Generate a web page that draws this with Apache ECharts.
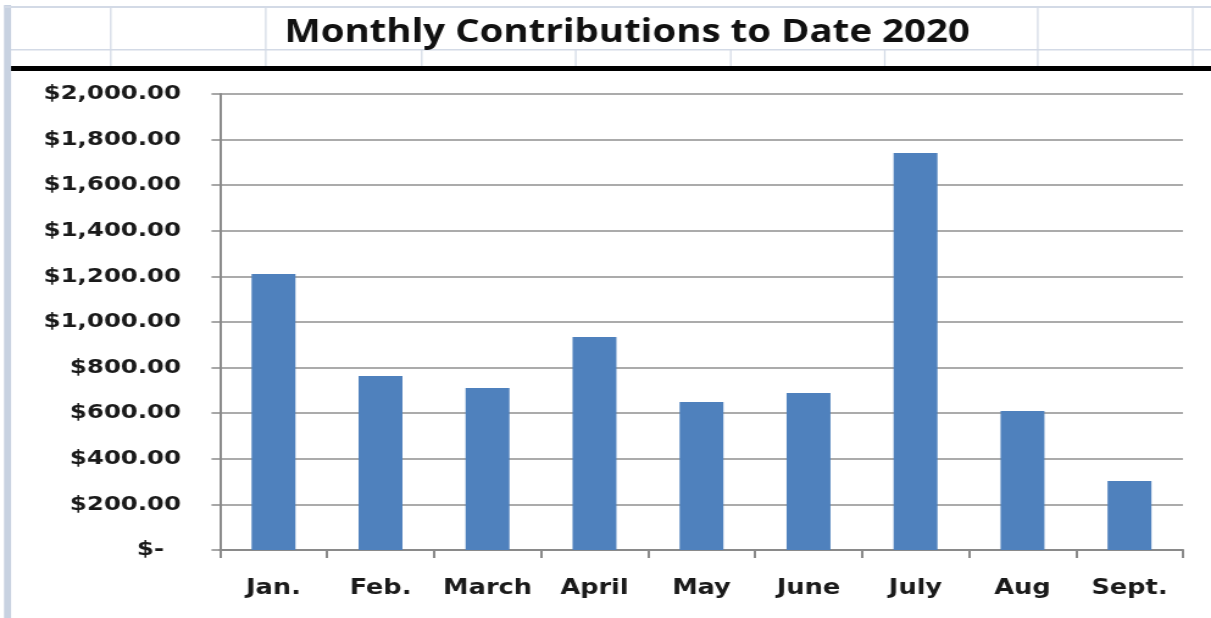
<!DOCTYPE html>
<html><head><meta charset="utf-8">
<script src="https://cdn.jsdelivr.net/npm/echarts@6/dist/echarts.min.js"></script>
<style>
html,body{margin:0;padding:0;background:#fff;overflow:hidden}
#wrap{width:1211px;height:618px;overflow:hidden;position:relative;background:#fff}
#chart{width:993px;height:618px;transform:scaleX(1.219537);transform-origin:0 0;}
</style></head><body><div id="wrap"><div id="chart"></div></div>
<script>
const titleText = 'Monthly Contributions to Date 2020';
const categories = ['Jan.', 'Feb.', 'March', 'April', 'May', 'June', 'July', 'Aug', 'Sept.'];
const contributions = [1210, 763, 710, 934, 649, 689, 1741, 610, 303];
const yMin = 0, yMax = 2000, yStep = 200;

const S = 1211 / 993;
const X = v => v / S;
const gridCol = '#d3dae6';
const graphics = [];
function rect(x, y, w, h, fill) {
  graphics.push({type: 'rect', silent: true, shape: {x: X(x), y: y, width: X(w), height: h}, style: {fill: fill}});
}
rect(4, 5, 7, 613, '#c8d2e1');
rect(4, 6, 1207, 2, gridCol);
rect(11, 49, 1200, 1.5, gridCol);
[110, 265, 1037, 1192].forEach(x => rect(x, 7, 1.5, 60, gridCol));
[421, 575, 730, 884].forEach(x => rect(x, 50, 1.5, 17, gridCol));
rect(11, 66, 1200, 5, '#000');

const chart = echarts.init(document.getElementById('chart'), null, {renderer: 'canvas'});
chart.setOption({
  animation: false,
  backgroundColor: '#fff',
  graphic: graphics,
  title: {
    text: titleText, left: X(621), top: 12, textAlign: 'center',
    textStyle: {fontFamily: 'Open Sans', fontWeight: 'bold', fontSize: 31.5, color: '#111'}
  },
  grid: {left: X(220), right: 993 - X(1183), top: 94, bottom: 68, containLabel: false},
  xAxis: {
    type: 'category', data: categories,
    axisLine: {lineStyle: {color: '#8a8a8a', width: 2}},
    axisTick: {show: true, length: 8, interval: 0, lineStyle: {color: '#8a8a8a', width: 2}},
    axisLabel: {margin: 28, interval: 0, fontFamily: 'DejaVu Sans', fontWeight: 'bold', fontSize: 21, color: '#1a1a1a'}
  },
  yAxis: {
    type: 'value', min: yMin, max: yMax, interval: yStep,
    axisLine: {show: true, lineStyle: {color: '#8a8a8a', width: 2}},
    axisTick: {show: true, length: 7, lineStyle: {color: '#8a8a8a', width: 1.5}},
    splitLine: {lineStyle: {color: '#8f8f8f', width: 1.5}},
    axisLabel: {
      margin: 32, fontFamily: 'DejaVu Sans', fontWeight: 'bold', fontSize: 20, color: '#1a1a1a',
      formatter: v => v === 0 ? '$-  ' : '$' + v.toLocaleString('en-US', {minimumFractionDigits: 2, maximumFractionDigits: 2})
    }
  },
  series: [{
    type: 'bar', data: contributions, barWidth: '41%',
    itemStyle: {color: '#4f81bd'}
  }]
});
</script></body></html>
